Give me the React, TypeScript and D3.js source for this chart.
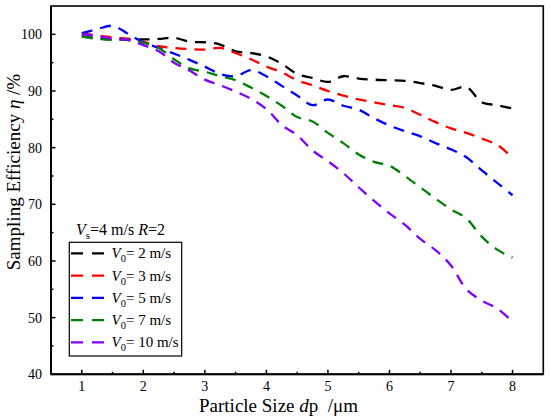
import React from "react";
import * as d3 from "d3";

const xs = [1.0,1.25,1.5,1.75,2.0,2.25,2.5,2.75,3.0,3.25,3.5,3.75,4.0,4.25,4.5,4.75,5.0,5.25,5.5,5.75,6.0,6.25,6.5,6.75,7.0,7.25,7.5,7.75,8.0];

const v2 = [99.7,99.3,99.1,99.2,99.1,99.2,99.4,98.7,98.6,98.2,97.0,96.7,96.1,94.8,93.0,92.3,91.6,92.6,92.2,92.0,91.9,91.8,91.4,90.9,90.2,90.7,88.0,87.5,86.9];
const v3 = [100.2,99.8,99.5,99.2,98.7,97.9,97.6,97.4,97.3,97.6,96.7,95.6,94.3,93.3,91.9,91.0,90.0,89.2,88.5,88.0,87.5,87.0,85.8,84.5,83.4,82.6,81.6,80.5,78.2];
const v5 = [100.2,100.9,101.5,100.1,98.6,97.6,96.6,95.5,94.3,93.0,92.6,93.7,92.6,90.9,89.2,87.5,88.5,87.4,86.7,85.2,83.9,82.9,82.0,80.8,79.7,78.3,76.0,73.8,71.6];
const v7 = [99.6,99.2,99.0,99.0,98.5,97.6,95.6,94.0,93.4,92.6,91.9,90.6,89.1,87.4,85.4,84.6,82.6,80.8,78.8,77.5,76.8,75.0,73.0,71.0,69.1,67.5,64.3,62.0,60.6];
const v10 = [100.0,99.7,99.2,99.0,98.1,97.0,95.0,93.6,92.0,91.0,89.9,88.6,86.8,84.0,82.2,79.5,77.6,75.5,73.0,70.6,68.4,66.4,63.9,61.9,59.2,55.0,53.0,51.6,49.3];

const seriesNames = ["2", "3", "5", "7", "10"];
const seriesValues = [v2, v3, v5, v7, v10];
const seriesColors = ["#000000", "#ff0000", "#0000ff", "#008000", "#8000ff"];

const xTicks = [1, 2, 3, 4, 5, 6, 7, 8];
const xMinor = [1.5, 2.5, 3.5, 4.5, 5.5, 6.5, 7.5];
const yTicks = [40, 50, 60, 70, 80, 90, 100];
const yMinor = [45, 55, 65, 75, 85, 95];

const W = 550, H = 420;
const L = 51, T = 6, R = 543.3, B = 374.3;
const FONT = "'Liberation Serif', 'Times New Roman', serif";

export default function App() {
  const x = d3.scaleLinear().domain([0.5, 8.5]).range([L, R]);
  const y = d3.scaleLinear().domain([40, 105]).range([B, T]);
  const line = d3
    .line<number>()
    .x((_, i) => x(xs[i]))
    .y((d) => y(d))
    .curve(d3.curveCatmullRom.alpha(0.5));

  const legX = 69.3, legY = 242.3, legW = 112.4, legH = 113.7;
  const rowY = (i: number) => 253.3 + i * 22.25;

  return (
    <svg width={W} height={H} style={{ position: "absolute", left: 0, top: 0, background: "#fff" }} fontFamily={FONT}>
      <rect x={0} y={0} width={W} height={H} fill="#fff" />
      <defs>
        <clipPath id="plotclip">
          <rect x={L} y={T} width={R - L} height={B - T} />
        </clipPath>
      </defs>
      {/* series */}
      <g clipPath="url(#plotclip)">
        {seriesValues.map((vals, k) => (
          <path
            key={k}
            d={line(vals) || ""}
            fill="none"
            stroke={seriesColors[k]}
            strokeWidth={2.3}
            strokeDasharray="11,8"
          />
        ))}
      </g>
      {/* frame */}
      <rect x={L} y={T} width={R - L} height={B - T} fill="none" stroke="#000" strokeWidth={1.6} />
      <line x1={L} y1={B} x2={R} y2={B} stroke="#000" strokeWidth={2} />
      <line x1={L} y1={T} x2={L} y2={B} stroke="#000" strokeWidth={2} />
      {/* x ticks */}
      {xTicks.map((t) => (
        <g key={"xt" + t}>
          <line x1={x(t)} x2={x(t)} y1={B} y2={B - 4.5} stroke="#000" strokeWidth={1.5} />
          <text x={x(t)} y={391} textAnchor="middle" fontSize={14}>
            {t}
          </text>
        </g>
      ))}
      {xMinor.map((t) => (
        <line key={"xm" + t} x1={x(t)} x2={x(t)} y1={B} y2={B - 2.5} stroke="#000" strokeWidth={1.5} />
      ))}
      {/* y ticks */}
      {yTicks.map((t) => (
        <g key={"yt" + t}>
          <line x1={L} x2={L + 4.5} y1={y(t)} y2={y(t)} stroke="#000" strokeWidth={1.5} />
          <text x={42} y={y(t)} dy="0.35em" textAnchor="end" fontSize={14}>
            {t}
          </text>
        </g>
      ))}
      {yMinor.map((t) => (
        <line key={"ym" + t} x1={L} x2={L + 2.5} y1={y(t)} y2={y(t)} stroke="#000" strokeWidth={1.5} />
      ))}
      {/* axis labels */}
      <text x={199} y={411.5} fontSize={19}>
        Particle Size <tspan fontStyle="italic">d</tspan>p{"\u00a0\u00a0"}/μm
      </text>
      <text transform="translate(20,172) rotate(-90)" textAnchor="middle" fontSize={19}>
        Sampling Efficiency <tspan fontStyle="italic">η</tspan> /%
      </text>
      {/* legend title */}
      <text x={76} y={235} fontSize={16}>
        <tspan fontStyle="italic">V</tspan>
        <tspan fontSize={11} dy={4}>s</tspan>
        <tspan dy={-4}>=4 m/s </tspan>
        <tspan fontStyle="italic">R</tspan>
        <tspan>=2</tspan>
      </text>
      {/* legend box */}
      <rect x={legX} y={legY} width={legW} height={legH} fill="#fff" stroke="#000" strokeWidth={1.2} />
      {seriesNames.map((n, i) => (
        <g key={"leg" + n}>
          <line
            x1={71}
            x2={104}
            y1={rowY(i)}
            y2={rowY(i)}
            stroke={seriesColors[i]}
            strokeWidth={2.3}
            strokeDasharray="12,9"
          />
          <text x={111.5} y={rowY(i) + 5} fontSize={15}>
            <tspan fontStyle="italic">V</tspan>
            <tspan fontSize={10.5} dy={4}>0</tspan>
            <tspan dy={-4}>= {n} m/s</tspan>
          </text>
        </g>
      ))}
    </svg>
  );
}
